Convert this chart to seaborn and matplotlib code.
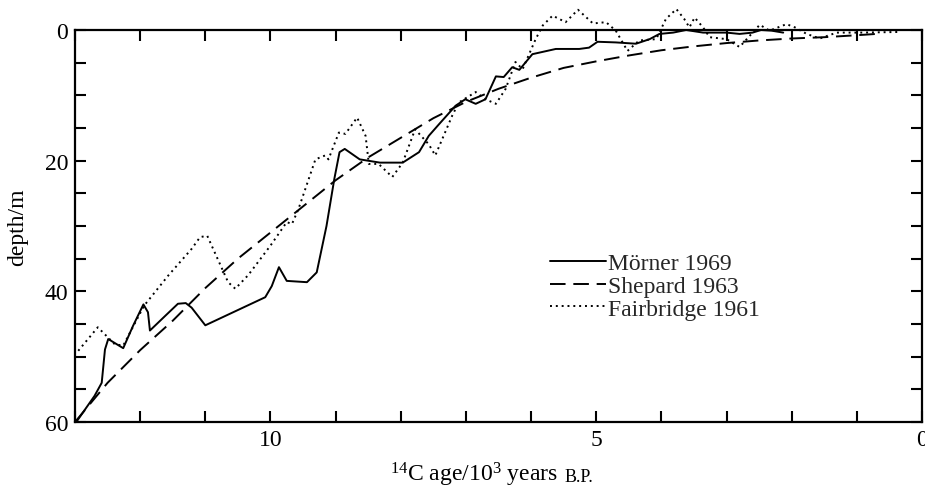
import matplotlib
matplotlib.use('Agg')
import matplotlib.pyplot as plt
import seaborn as sns

# ages in 10^3 years B.P., depths in m
morner_age = [12.98, 12.70, 12.59, 12.54, 12.49, 12.26, 12.11, 11.95, 11.88, 11.85, 11.62,
              11.42, 11.30, 11.21, 11.00, 10.08, 9.98, 9.87, 9.75, 9.44, 9.29, 9.14, 9.02,
              8.94, 8.86, 8.63, 8.32, 7.97, 7.72, 7.57, 7.42, 7.16, 7.01, 6.85, 6.70, 6.54,
              6.42, 6.29, 6.18, 5.98, 5.62, 5.26, 5.11, 4.98, 4.70, 4.39, 4.18, 4.03, 3.82,
              3.62, 3.36, 3.00, 2.80, 2.60, 2.47, 2.31, 2.13]
morner_depth = [60.0, 56.0, 54.0, 48.9, 47.3, 48.7, 45.3, 42.0, 43.2, 46.0, 43.8,
                41.9, 41.8, 42.5, 45.2, 40.9, 39.2, 36.3, 38.4, 38.6, 37.1, 30.0, 22.8,
                18.7, 18.2, 19.8, 20.3, 20.3, 18.7, 16.2, 14.5, 11.6, 10.6, 11.3, 10.6, 7.1,
                7.2, 5.7, 6.1, 3.7, 2.9, 2.9, 2.7, 1.8, 1.9, 2.1, 1.4, 0.6, 0.4,
                0.0, 0.4, 0.4, 0.6, 0.4, 0.0, 0.1, 0.4]

shepard_age = [13.0, 12.5, 12.0, 11.5, 11.0, 10.5, 10.0, 9.5, 9.0, 8.5, 8.0, 7.5, 7.0,
               6.5, 6.0, 5.5, 5.0, 4.5, 4.0, 3.5, 3.0, 2.5, 2.0, 1.5, 1.0, 0.7]
shepard_depth = [60.0, 54.0, 49.0, 44.5, 39.5, 35.0, 31.0, 27.0, 23.0, 19.5, 16.5, 13.5, 11.0,
                 9.0, 7.3, 5.8, 4.8, 3.9, 3.1, 2.5, 2.0, 1.6, 1.3, 1.1, 0.8, 0.6]

fair_age = [12.95, 12.65, 12.39, 12.26, 11.94, 11.57, 11.21, 11.08, 10.97, 10.88, 10.65,
            10.54, 10.34, 10.00, 9.75, 9.67, 9.57, 9.31, 9.16, 9.11, 8.95, 8.85, 8.67,
            8.54, 8.49, 8.34, 8.13, 7.97, 7.78, 7.57, 7.47, 7.21, 7.11, 6.85, 6.70, 6.54,
            6.39, 6.24, 6.13, 5.93, 5.82, 5.67, 5.47, 5.28, 5.05, 4.85, 4.70, 4.52, 4.34,
            4.08, 3.93, 3.77, 3.65, 3.57, 3.49, 3.36, 3.26, 3.00, 2.80, 2.49, 2.34, 2.08,
            1.95, 1.77, 1.57, 1.31, 0.95, 0.34]
fair_depth = [49.1, 45.5, 48.1, 48.3, 42.2, 37.6, 33.5, 31.7, 31.5, 33.5, 38.6,
              39.6, 37.5, 33.0, 29.4, 29.7, 27.4, 19.8, 19.2, 19.8, 15.7, 15.9, 13.4,
              16.2, 20.5, 20.5, 22.5, 20.3, 15.2, 17.5, 19.2, 13.1, 11.1, 9.5, 10.6, 11.3,
              9.0, 4.9, 6.0, 1.4, -0.7, -2.2, -1.2, -3.1, -1.0, -1.2, 0.1, 3.2, 1.6,
              1.4, -1.7, -3.2, -1.7, -0.4, -1.9, -0.4, 1.1, 1.4, 2.6, -0.8, 0.1, -0.9,
              -0.4, 0.6, 1.3, 0.4, 0.4, 0.3]

x_ticks = list(range(0, 14))
x_labels = {10: '10', 5: '5', 0: '0'}
y_ticks = list(range(0, 61, 5))
y_labels = {0: '0', 20: '20', 40: '40', 60: '60'}

sns.set_theme(style='ticks')
plt.rcParams['font.family'] = ['Liberation Serif', 'DejaVu Serif']
plt.rcParams['mathtext.fontset'] = 'custom'
plt.rcParams['mathtext.rm'] = 'Liberation Serif'
plt.rcParams['mathtext.it'] = 'Liberation Serif:italic'

FS = 17
W, H = 925, 489
fig = plt.figure(figsize=(W / 100, H / 100), dpi=100)
ax = fig.add_axes([75 / W, 66 / H, 847 / W, 392 / H])

series = [
    (morner_age, morner_depth, 'Mörner 1969', '-'),
    (shepard_age, shepard_depth, 'Shepard 1963', (0, (8, 4))),
    (fair_age, fair_depth, 'Fairbridge 1961', (0, (1, 2))),
]
for ages, depths, label, ls in series:
    sns.lineplot(x=ages, y=depths, ax=ax, color='black', lw=1.4, linestyle=ls,
                 label=label, estimator=None, sort=False, clip_on=False)

ax.set_xlim(13, 0)
ax.set_ylim(60, 0)
ax.set_xticks(x_ticks)
ax.set_xticklabels([x_labels.get(t, '') for t in x_ticks])
ax.set_yticks(y_ticks)
ax.set_yticklabels([y_labels.get(t, '') for t in y_ticks])
ax.tick_params(direction='in', top=True, right=True, length=8, width=1.5,
               labelsize=FS, pad=5, colors='black')
for sp in ax.spines.values():
    sp.set_visible(True)
    sp.set_linewidth(1.6)
    sp.set_color('black')

ax.set_ylabel('depth/m', fontsize=FS, color='black')
ax.yaxis.set_label_coords(-47 / 847, 0.5)

fig.text(558 / W, 7 / H, r'$^{14}$C age/10$^{3}$ years', fontsize=FS, ha='right',
         va='baseline', color='black')
fig.text(565 / W, 7 / H, 'B.P.', fontsize=13, ha='left', va='baseline', color='black')

ax.legend(loc='upper left', bbox_to_anchor=(0.561, 0.432), frameon=False, fontsize=FS,
          handlelength=2.35, handletextpad=0.08, labelspacing=0.05, borderpad=0,
          borderaxespad=0)

fig.savefig('out.png', dpi=100, facecolor='white')
